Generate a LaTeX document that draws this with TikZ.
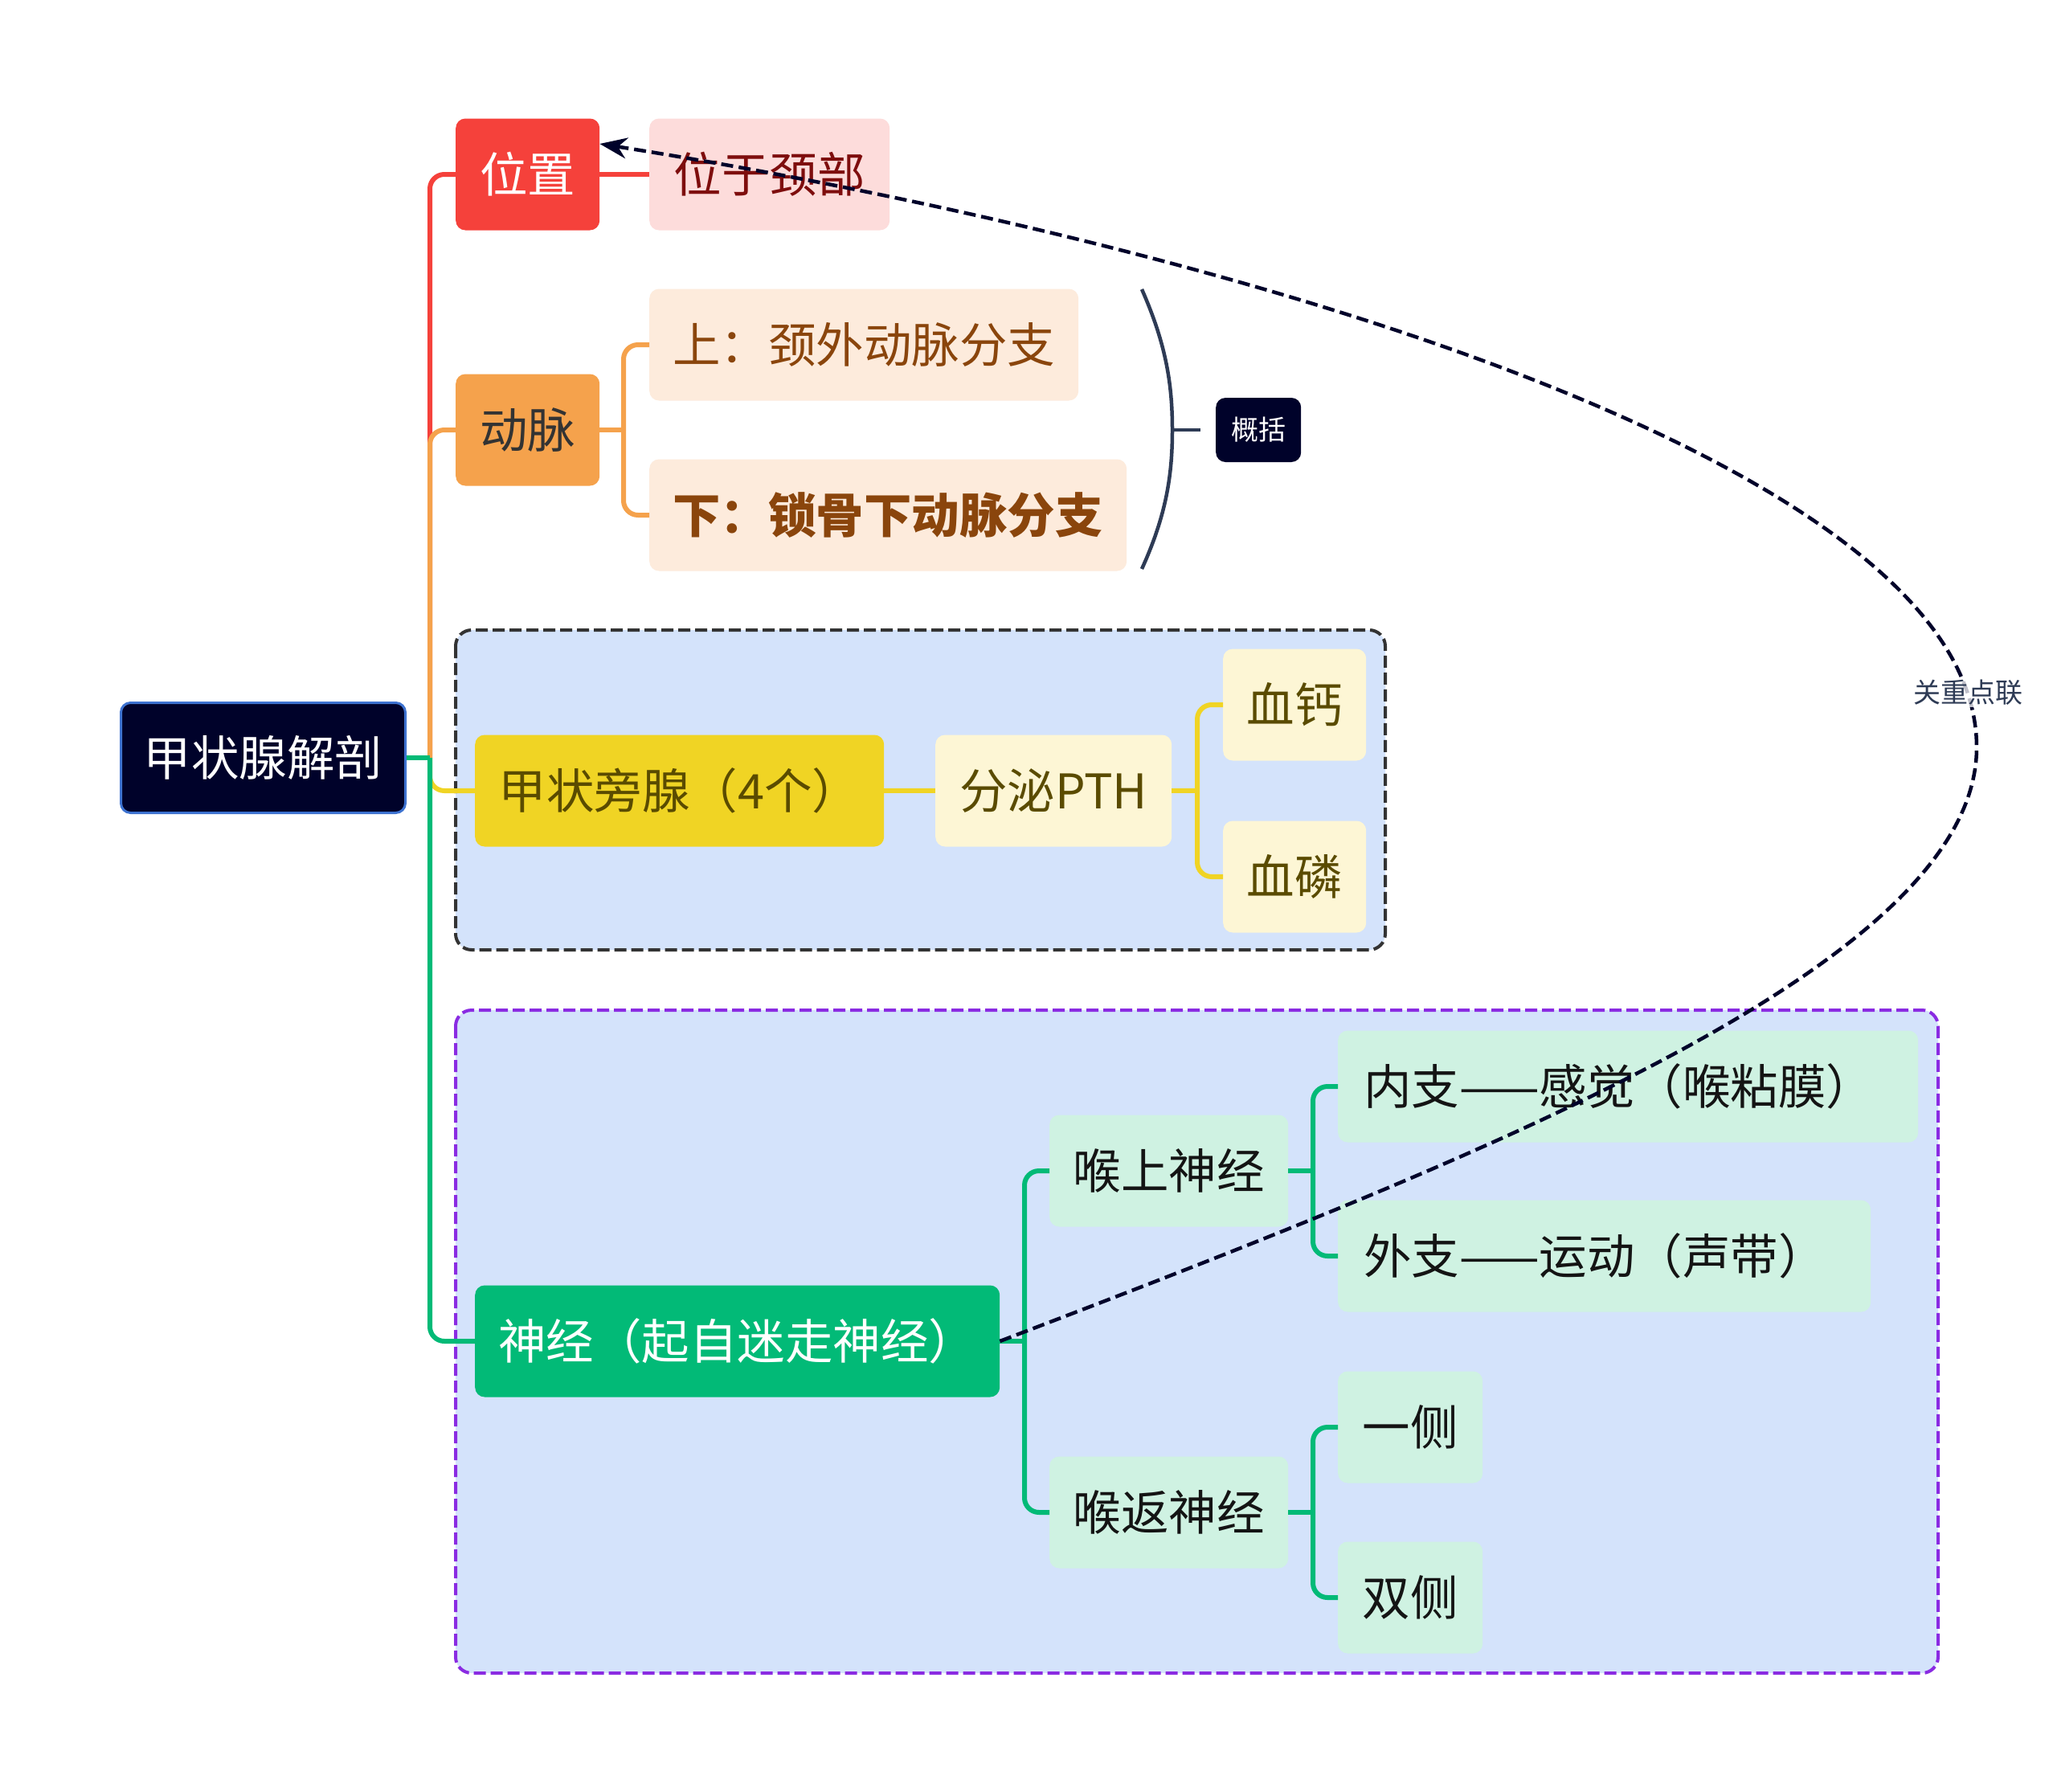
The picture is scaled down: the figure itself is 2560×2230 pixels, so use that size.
\documentclass[tikz,border=0pt]{standalone}
\usepackage{fontspec}
\setmainfont{Noto Sans CJK SC}
\usetikzlibrary{arrows.meta}
\definecolor{navy}{HTML}{00022A}
\definecolor{rootblue}{HTML}{3D72D0}
\definecolor{cred}{HTML}{F5413B}
\definecolor{redlight}{HTML}{FDDCDB}
\definecolor{redtext}{HTML}{7E0D0D}
\definecolor{corange}{HTML}{F5A24C}
\definecolor{orlight}{HTML}{FDEBDC}
\definecolor{ortext}{HTML}{8A450C}
\definecolor{cyellow}{HTML}{F0D424}
\definecolor{yelight}{HTML}{FDF6D5}
\definecolor{yetext}{HTML}{5A4B00}
\definecolor{cgreen}{HTML}{02BA77}
\definecolor{grlight}{HTML}{CFF2E2}
\definecolor{grtext}{HTML}{141414}
\definecolor{grpfill}{HTML}{D4E3FB}
\definecolor{grpgray}{HTML}{333333}
\definecolor{grppurple}{HTML}{8A2BE2}
\definecolor{bracecol}{HTML}{2E3B55}
\definecolor{reltext}{HTML}{2E3B55}
\begin{document}
\begin{tikzpicture}[x=1pt,y=-1pt,
  box/.style={rounded corners=12pt, minimum height=139pt, inner xsep=27pt, inner ysep=0pt,
    font=\fontsize{59.5}{59.5}\selectfont, anchor=west},
  leftbox/.style={box, inner xsep=32pt, align=left, text width=#1},
  conn/.style={line width=6pt},
  joint/.style={line width=6pt, rounded corners=18pt},
  grp/.style={line width=4pt, dash pattern=on 15pt off 6pt, rounded corners=20pt, fill=grpfill},
  bracestyle/.style={line width=4.5pt, draw=bracecol},
  rel/.style={line width=4.5pt, dash pattern=on 15pt off 7pt, draw=navy}
]
\useasboundingbox[fill=white] (0,0) rectangle (2560,2230);

% group boxes
\draw[grp, draw=grpgray] (567,784) rectangle (1724,1182);
\draw[grp, draw=grppurple] (567,1257) rectangle (2412,2082);

% nodes
\node[box, fill=navy, draw=rootblue, line width=3pt, text=white, minimum width=354pt, minimum height=137pt] (root) at (149,943) {甲状腺解剖};
\node[box, fill=cred, text=white, minimum width=179pt] (pos) at (567,217) {位置};
\node[box, fill=redlight, text=redtext, minimum width=299pt] (posc) at (808,217) {位于颈部};
\node[box, fill=corange, text=black!80, minimum width=179pt] (art) at (567,535) {动脉};
\node[box, fill=orlight, text=ortext, minimum width=534pt] (artup) at (808,429) {上：颈外动脉分支};
\node[box, fill=orlight, text=ortext, minimum width=594pt, font=\fontsize{59.5}{59.5}\selectfont\bfseries] (artdn) at (808,641) {下：锁骨下动脉分支};
\node[box, fill=cyellow, text=yetext, minimum width=509pt] (para) at (591,984) {甲状旁腺（4个）};
\node[box, fill=yelight, text=yetext, minimum width=294pt] (pth) at (1164,984) {分泌PTH};
\node[box, fill=yelight, text=yetext, minimum width=178pt] (ca) at (1522,877) {血钙};
\node[box, fill=yelight, text=yetext, minimum width=178pt] (phos) at (1522,1091) {血磷};
\node[box, fill=cgreen, text=white, minimum width=653pt] (nerve) at (591,1669) {神经（起自迷走神经）};
\node[box, fill=grlight, text=grtext, minimum width=297pt] (sup) at (1306,1457) {喉上神经};
\node[box, fill=grlight, text=grtext, minimum width=297pt] (rec) at (1306,1882) {喉返神经};
\node[leftbox=658pt, fill=grlight, text=grtext, minimum width=722pt] (inner) at (1665,1352) {内支——感觉（喉粘膜）};
\node[leftbox=599pt, fill=grlight, text=grtext, minimum width=663pt] (outer) at (1665,1563) {外支——运动（声带）};
\node[box, fill=grlight, text=grtext, minimum width=180pt] (one) at (1665,1776) {一侧};
\node[box, fill=grlight, text=grtext, minimum width=180pt] (both) at (1665,1988) {双侧};
\node[box, fill=navy, text=white, minimum width=106pt, minimum height=80pt, inner xsep=16pt, rounded corners=12pt, font=\fontsize{34}{34}\selectfont] (gk) at (1513,535) {概括};

% junction coordinates
\coordinate (rj) at (535,943);
\coordinate (aj) at (776,535);
\coordinate (pj) at (1490,984);
\coordinate (nj) at (1275,1669);
\coordinate (sj) at (1634,1457);
\coordinate (rcj) at (1634,1882);

% root connectors
\draw[joint, draw=cred] (rj) |- (pos.west);
\draw[joint, draw=corange] (rj) |- (art.west);
\draw[joint, draw=cyellow] (rj) |- (para.west);
\draw[joint, draw=cgreen] (rj) |- (nerve.west);
\draw[conn, draw=cgreen] (root.east) -- (rj);

% position
\draw[conn, draw=cred] (pos.east) -- (posc.west);
% artery
\draw[conn, draw=corange] (art.east) -- (aj);
\draw[joint, draw=corange] (aj) |- (artup.west);
\draw[joint, draw=corange] (aj) |- (artdn.west);
% parathyroid
\draw[conn, draw=cyellow] (para.east) -- (pth.west);
\draw[conn, draw=cyellow] (pth.east) -- (pj);
\draw[joint, draw=cyellow] (pj) |- (ca.west);
\draw[joint, draw=cyellow] (pj) |- (phos.west);
% nerve
\draw[conn, draw=cgreen] (nerve.east) -- (nj);
\draw[joint, draw=cgreen] (nj) |- (sup.west);
\draw[joint, draw=cgreen] (nj) |- (rec.west);
\draw[conn, draw=cgreen] (sup.east) -- (sj);
\draw[joint, draw=cgreen] (sj) |- (inner.west);
\draw[joint, draw=cgreen] (sj) |- (outer.west);
\draw[conn, draw=cgreen] (rec.east) -- (rcj);
\draw[joint, draw=cgreen] (rcj) |- (one.west);
\draw[joint, draw=cgreen] (rcj) |- (both.west);

% summary brace
\coordinate (bm) at (1459,535);
\draw[bracestyle] (1421,360) .. controls (1452,430) and (1459,480) .. (bm)
                              .. controls (1459,590) and (1452,640) .. (1421,708);
\draw[bracestyle] (bm) -- ([xshift=-19pt]gk.west);

% relationship curve
\coordinate (relm) at (2460,930);
\draw[rel, -{Stealth[length=34pt,width=26pt]}] (nerve.east) .. controls (1844,1440) and (2460,1200) .. (relm)
      .. controls (2460,560) and (1450,290) .. ([yshift=38pt]pos.east);
\node[fill=white, fill opacity=0.75, text opacity=1, text=reltext, inner sep=2pt, font=\fontsize{34}{34}\selectfont] (rellabel) at (2449,862) {关重点联};
\end{tikzpicture}
\end{document}
